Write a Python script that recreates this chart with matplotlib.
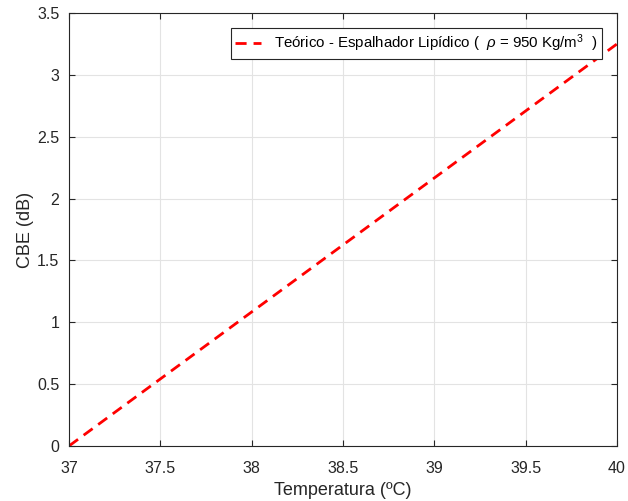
import matplotlib.pyplot as plt

plt.rcParams['font.family'] = ['Liberation Sans', 'DejaVu Sans']
plt.rcParams['mathtext.fontset'] = 'custom'
plt.rcParams['mathtext.rm'] = 'Liberation Sans'
plt.rcParams['mathtext.it'] = 'Liberation Sans:italic'

# dados
temperatura = [37.0, 40.0]
cbe = [0.0, 3.25]
xticks = [37, 37.5, 38, 38.5, 39, 39.5, 40]
yticks = [0, 0.5, 1, 1.5, 2, 2.5, 3, 3.5]

fig = plt.figure(figsize=(6.28, 5.01), dpi=100)
ax = fig.add_axes([0.110, 0.110, 0.8725, 0.864])

ax.plot(temperatura, cbe, linestyle=(0, (4, 2.5)), color='#ff0000', linewidth=2,
        label=r'Teórico - Espalhador Lipídico (  $\rho$ = 950 Kg/m$^3$  )')

ax.set_xlim(37, 40)
ax.set_ylim(0, 3.5)
ax.set_xticks(xticks)
ax.set_xticklabels([f'{t:g}' for t in xticks])
ax.set_yticks(yticks)
ax.set_yticklabels([f'{t:g}' for t in yticks])

ax.set_xlabel('Temperatura (ºC)', fontsize=13, color='#262626', labelpad=4)
ax.set_ylabel('CBE (dB)', fontsize=13, color='#262626', labelpad=2)

# grade e eixos
ax.grid(True, color='#e3e3e3', linewidth=0.8)
ax.set_axisbelow(True)
ax.tick_params(direction='in', labelsize=11.5, colors='#262626', top=True, right=True, length=4)
ax.tick_params(axis='x', pad=11)
ax.tick_params(axis='y', pad=7)
for s in ax.spines.values():
    s.set_color('#262626')
    s.set_linewidth(0.8)

leg = ax.legend(loc='upper right', fontsize=10.8, fancybox=False, framealpha=1,
                edgecolor='#262626', borderaxespad=1.0, handlelength=1.7,
                handletextpad=0.9, borderpad=0.3)
leg.get_frame().set_linewidth(0.8)

fig.savefig('out.png', dpi=100)
